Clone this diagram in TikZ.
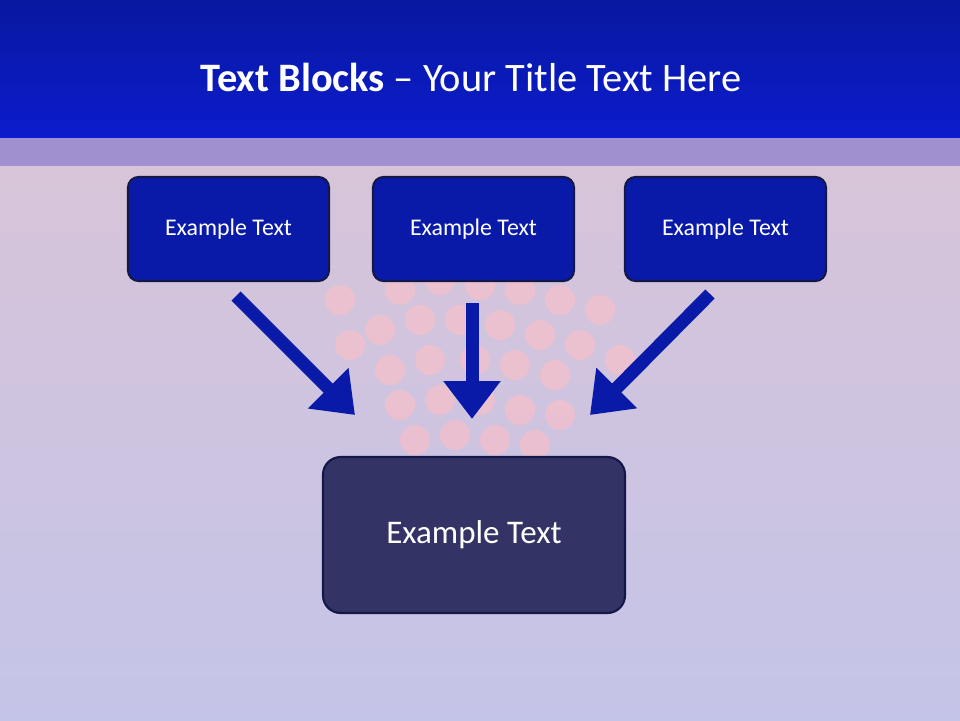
\documentclass[tikz,border=0pt]{standalone}
\usepackage{fontspec}
\setmainfont{Carlito}
\usetikzlibrary{arrows.meta}
\definecolor{boxblue}{HTML}{0A1AA8}
\definecolor{bigbox}{HTML}{333366}
\definecolor{edge}{HTML}{141848}
\definecolor{bgtop}{HTML}{D8C4D8}
\definecolor{bgbot}{HTML}{C4C4E8}
\definecolor{band}{HTML}{A090D0}
\definecolor{titletop}{HTML}{0818A0}
\definecolor{titlebot}{HTML}{0C1CCC}
\definecolor{dot}{HTML}{F2C0CC}
\begin{document}
\begin{tikzpicture}[x=0.02cm,y=-0.02cm,
  small/.style={draw=edge,line width=1.2pt,fill=boxblue,rounded corners=6pt,text=white,font=\fontsize{13.6}{16}\selectfont},
  big/.style={draw=edge,line width=1.2pt,fill=bigbox,rounded corners=10pt,text=white,font=\fontsize{18.8}{22}\selectfont},
  blockarrow/.style={draw=boxblue,line width=0.26cm,-{Triangle[length=0.76cm,width=1.1cm]},fill=boxblue}]
\useasboundingbox (0,0) rectangle (960,720);
\fill[top color=bgtop, bottom color=bgbot] (0,137) rectangle (960,720);
\fill[band] (0,137) rectangle (960,166);
\foreach \cx/\cy in {400/290,440/280,480/285,520/290,560/300,
  380/330,420/320,460/320,500/325,540/335,580/345,
  390/370,430/360,475/360,515/365,555/375,
  400/405,440/400,480/400,520/410,560/415,
  415/440,455/435,495/440,535/445,
  340/300,350/345,600/310,620/360}
  \fill[dot,opacity=0.8] (\cx,\cy) circle (15);
\fill[top color=titletop, bottom color=titlebot] (0,0) rectangle (960,137);
\node[text=white,font=\fontsize{23}{27}\selectfont] (title) at (471,77) {\textbf{Text Blocks} – Your Title Text Here};
\node[small,minimum width=201*0.02cm,minimum height=104*0.02cm] (b1) at (228.5,229) {Example Text};
\node[small,minimum width=201*0.02cm,minimum height=104*0.02cm] (b2) at (473.5,229) {Example Text};
\node[small,minimum width=201*0.02cm,minimum height=104*0.02cm] (b3) at (725.5,229) {Example Text};
\node[big,minimum width=302*0.02cm,minimum height=156*0.02cm] (main) at (474,535) {Example Text};
\coordinate (s1) at (236,296); \coordinate (e1) at (355,415);
\coordinate (s2) at (472,303); \coordinate (e2) at (472,419);
\coordinate (s3) at (710,294); \coordinate (e3) at (590,415);
\draw[blockarrow] (s1) -- (e1);
\draw[blockarrow] (s2) -- (e2);
\draw[blockarrow] (s3) -- (e3);
\end{tikzpicture}
\end{document}
